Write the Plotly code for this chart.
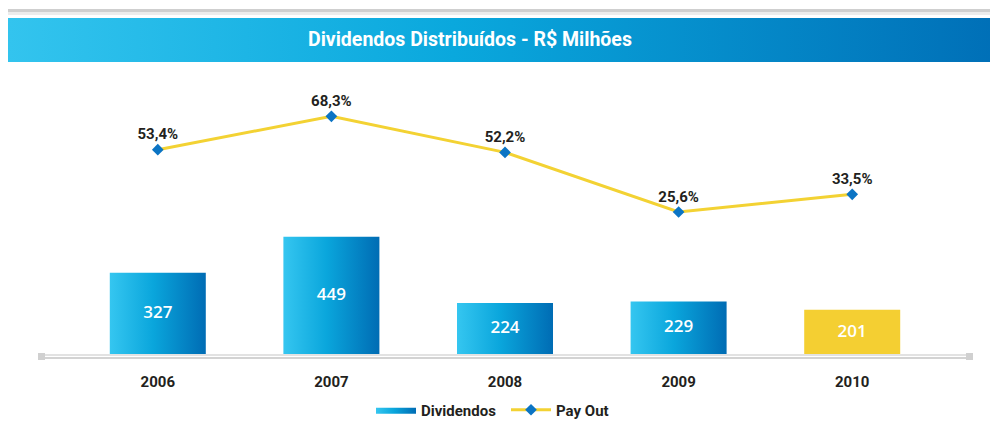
import base64
import plotly.graph_objects as go

years = ["2006", "2007", "2008", "2009", "2010"]
dividendos = [327, 449, 224, 229, 201]
payout = [53.4, 68.3, 52.2, 25.6, 33.5]
payout_labels = ["53,4%", "68,3%", "52,2%", "25,6%", "33,5%"]

# page body has an 8px margin: lay out in reference pixels, shifted by OFF
OFF = 8
W, H = 998 - OFF, 426 - OFF
PL, PR, PT, PB = 38, 972, 80, 355          # plot area in reference pixels
ML, MR, MT, MB = PL - OFF, (998 - PR), PT - OFF, (426 - PB)
PW, PH = PR - PL, PB - PT

def px_x(p):
    return (p - PL) / PW

def px_y(p):
    return (PB - p) / PH

Y1_MIN, Y1_MAX = 47, 982
Y2_MIN, Y2_MAX = -38.2, 84.5
HALF = 0.2765
XR = [-0.69, 4.69]

FONT_C = "Roboto, Liberation Sans Narrow, sans-serif"
grad = [[0, "#35c6f0"], [0.45, "#0aa6dc"], [1, "#006cb4"]]

fig = go.Figure()
xs = list(range(len(years)))
for i, v in enumerate(dividendos):
    last = i == len(years) - 1
    px = [i - HALF, i + HALF, i + HALF, i - HALF, i - HALF]
    py = [0, 0, v, v, 0]
    kw = dict(x=px, y=py, mode="lines", fill="toself", line=dict(width=0),
              hoverinfo="skip", name="Dividendos", legendgroup="div",
              showlegend=(i == 0))
    if last:
        kw["fillcolor"] = "#f4cf32"
        kw["showlegend"] = False
    else:
        kw["fillgradient"] = dict(type="horizontal", colorscale=grad)
    fig.add_trace(go.Scatter(**kw))

fig.add_trace(go.Scatter(
    x=xs, y=[(v + Y1_MIN) / 2 for v in dividendos], mode="text",
    text=[str(v) for v in dividendos], showlegend=False, hoverinfo="skip",
    textfont=dict(family="Open Sans, Liberation Sans, sans-serif", size=17,
                  color="white", weight=600)))

fig.add_trace(go.Scatter(
    x=xs, y=payout, yaxis="y2", name="Pay Out", mode="lines+markers+text",
    line=dict(color="#f3d233", width=3),
    marker=dict(symbol="diamond", size=9, color="#0b74c4"),
    text=payout_labels, textposition="top center",
    textfont=dict(family=FONT_C, size=15, color="#231f20", weight="bold")))

svg = ('<svg xmlns="http://www.w3.org/2000/svg" width="990" height="44" preserveAspectRatio="none" viewBox="0 0 990 44">'
       '<defs><linearGradient id="g" x1="0" y1="0" x2="1" y2="0">'
       '<stop offset="0" stop-color="#33c4ee"/><stop offset="0.45" stop-color="#0aa8dd"/>'
       '<stop offset="1" stop-color="#006fb7"/></linearGradient></defs>'
       '<rect width="990" height="44" fill="url(#g)"/></svg>')
uri = "data:image/svg+xml;base64," + base64.b64encode(svg.encode()).decode()

fig.update_layout(
    template="none",
    width=W, height=H, margin=dict(l=ML, r=MR, t=MT, b=MB, autoexpand=False),
    paper_bgcolor="white", plot_bgcolor="white",
    images=[dict(source=uri, xref="paper", yref="paper", x=px_x(8), y=px_y(18),
                 sizex=(998 - 8) / PW, sizey=44 / PH, xanchor="left", yanchor="top",
                 sizing="stretch", layer="below")],
    annotations=[dict(text="<b>Dividendos Distribuídos - R$ Milhões</b>", xref="paper", yref="paper",
                      x=px_x(470), y=px_y(40), xanchor="center", yanchor="middle", showarrow=False,
                      font=dict(family=FONT_C, size=19.5, color="white"))],
    shapes=[
        dict(type="rect", xref="paper", yref="paper", x0=px_x(8), x1=px_x(998), y0=px_y(9), y1=px_y(12),
             fillcolor="#cfcfcf", line=dict(width=0), layer="below"),
        dict(type="rect", xref="paper", yref="paper", x0=px_x(8), x1=px_x(998), y0=px_y(12), y1=px_y(15),
             fillcolor="#ececec", line=dict(width=0), layer="below"),
        dict(type="line", xref="paper", yref="paper", x0=0, x1=1, y0=px_y(355), y1=px_y(355),
             line=dict(color="#e2e2e2", width=2)),
        dict(type="line", xref="paper", yref="paper", x0=0, x1=1, y0=px_y(358), y1=px_y(358),
             line=dict(color="#c4c4c4", width=1.5)),
        dict(type="rect", xref="paper", yref="paper", x0=px_x(38), x1=px_x(45), y0=px_y(353), y1=px_y(360),
             fillcolor="#d0d0d0", line=dict(width=0)),
        dict(type="rect", xref="paper", yref="paper", x0=px_x(966), x1=px_x(973), y0=px_y(353), y1=px_y(360),
             fillcolor="#d0d0d0", line=dict(width=0)),
    ],
    xaxis=dict(range=XR, tickvals=xs, ticktext=years, showgrid=False, zeroline=False,
               showline=False, ticks="", ticklabelstandoff=16, automargin=False,
               tickfont=dict(family=FONT_C, size=15, color="#231f20", weight="bold")),
    yaxis=dict(range=[Y1_MIN, Y1_MAX], visible=False, showgrid=False, automargin=False),
    yaxis2=dict(range=[Y2_MIN, Y2_MAX], overlaying="y", side="right", visible=False,
                showgrid=False, automargin=False),
    legend=dict(orientation="h", x=px_x(506), xanchor="center", y=px_y(410), yanchor="middle",
                font=dict(family=FONT_C, size=15, color="#231f20", weight="bold"),
                itemwidth=40, entrywidth=80, traceorder="normal", bgcolor="rgba(0,0,0,0)"),
    showlegend=True,
)

fig.write_html("out.html")
